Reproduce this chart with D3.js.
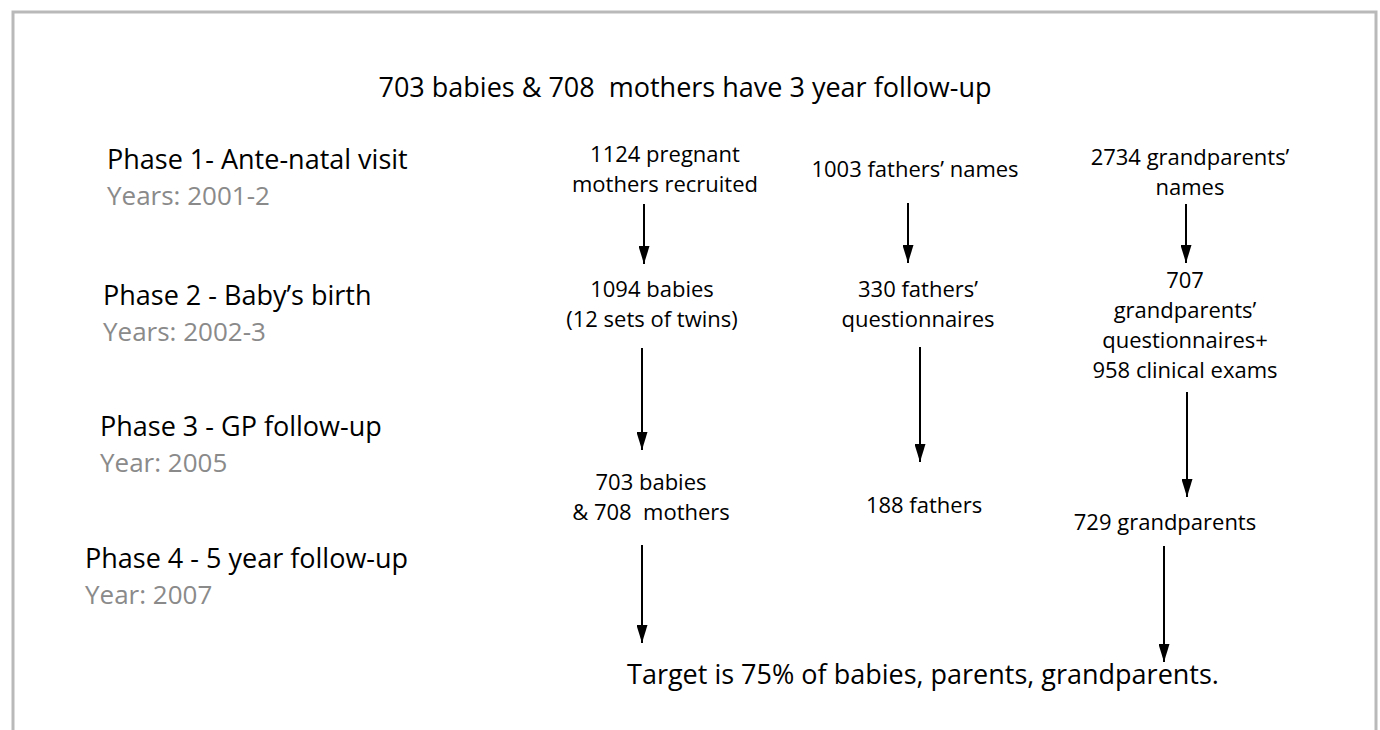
<!DOCTYPE html>
<html>
<head>
<meta charset="utf-8">
<script src="https://cdn.jsdelivr.net/npm/d3@7"></script>
<style>
  html, body { margin: 0; padding: 0; background: #fff; }
  text { font-family: "Open Sans", "Noto Sans", sans-serif; white-space: pre; }
</style>
</head>
<body>
<div id="chart"></div>
<script>
// Data
var headline = "703 babies & 708  mothers have 3 year follow-up";
var targetText = "Target is 75% of babies, parents, grandparents.";

var phaseNames = ["Phase 1- Ante-natal visit", "Phase 2 - Baby’s birth", "Phase 3 - GP follow-up", "Phase 4 - 5 year follow-up"];
var phaseYears = ["Years: 2001-2", "Years: 2002-3", "Year: 2005", "Year: 2007"];

var motherSteps = [["1124 pregnant", "mothers recruited"], ["1094 babies", "(12 sets of twins)"], ["703 babies", "& 708  mothers"]];
var fatherSteps = [["1003 fathers’ names"], ["330 fathers’", "questionnaires"], ["188 fathers"]];
var grandparentSteps = [["2734 grandparents’", "names"], ["707", "grandparents’", "questionnaires+", "958 clinical exams"], ["729 grandparents"]];

// Layout (pixel positions of the drawing)
var width = 1380, height = 730;
var lineGap = 30;

var phaseX = [107, 103, 100, 85];
var phaseY = d3.scaleOrdinal().domain(d3.range(4)).range([169, 305, 436, 568]);

var columns = [
    { steps: motherSteps,      x: [665, 652, 651],  y: [162, 297, 490],
      arrows: [{ x: 644, y1: 204, y2: 264 }, { x: 642, y1: 348, y2: 450 }, { x: 642, y1: 545, y2: 643 }] },
    { steps: fatherSteps,      x: [915, 918, 924],  y: [177, 297, 513],
      arrows: [{ x: 908, y1: 203, y2: 263 }, { x: 920, y1: 347, y2: 462 }] },
    { steps: grandparentSteps, x: [1190, 1185, 1165], y: [165, 288, 530],
      arrows: [{ x: 1186, y1: 204, y2: 263 }, { x: 1187, y1: 392, y2: 497 }, { x: 1164, y1: 546, y2: 662 }] }
];

var svg = d3.select("#chart").append("svg")
    .attr("width", width)
    .attr("height", height);

svg.append("rect").attr("width", width).attr("height", height).attr("fill", "#fff");

// Frame (open at the bottom)
svg.append("path")
    .attr("d", "M13," + height + "V12H1376V" + height)
    .attr("fill", "none")
    .attr("stroke", "#b9b9b9")
    .attr("stroke-width", 3);

// Arrow head, pointing along the line direction
svg.append("defs").append("marker")
    .attr("id", "head")
    .attr("viewBox", "0 0 18 11")
    .attr("refX", 18).attr("refY", 5.5)
    .attr("markerWidth", 18).attr("markerHeight", 11)
    .attr("markerUnits", "userSpaceOnUse")
    .attr("orient", "auto")
    .append("path")
    .attr("d", "M0,0L18,5.5L0,11Z")
    .attr("fill", "#000");

// Headline
svg.append("text")
    .attr("x", 685).attr("y", 97)
    .attr("text-anchor", "middle")
    .style("font-size", "27px")
    .attr("fill", "#000")
    .text(headline);

// Phase labels
var phase = svg.selectAll(".phase")
    .data(phaseNames)
    .enter().append("g")
    .attr("class", "phase");

phase.append("text")
    .attr("x", function(d, i) { return phaseX[i]; })
    .attr("y", function(d, i) { return phaseY(i); })
    .style("font-size", "27px")
    .attr("fill", "#000")
    .text(function(d) { return d; });

phase.append("text")
    .attr("x", function(d, i) { return phaseX[i]; })
    .attr("y", function(d, i) { return phaseY(i) + 36; })
    .style("font-size", "26px")
    .attr("fill", "#8a8a8a")
    .text(function(d, i) { return phaseYears[i]; });

// Columns: step texts and arrows
columns.forEach(function(col) {
    var g = svg.append("g");

    g.selectAll(".step")
        .data(col.steps)
        .enter().append("text")
        .attr("class", "step")
        .attr("text-anchor", "middle")
        .style("font-size", "22px")
        .attr("fill", "#000")
        .each(function(lines, i) {
            d3.select(this).selectAll("tspan")
                .data(lines)
                .enter().append("tspan")
                .attr("x", col.x[i])
                .attr("y", function(l, j) { return col.y[i] + j * lineGap; })
                .text(function(l) { return l; });
        });

    g.selectAll(".arrow")
        .data(col.arrows)
        .enter().append("line")
        .attr("class", "arrow")
        .attr("x1", function(d) { return d.x; })
        .attr("x2", function(d) { return d.x; })
        .attr("y1", function(d) { return d.y1; })
        .attr("y2", function(d) { return d.y2; })
        .attr("stroke", "#000")
        .attr("stroke-width", 2)
        .attr("marker-end", "url(#head)");
});

// Target line
svg.append("text")
    .attr("x", 923).attr("y", 684)
    .attr("text-anchor", "middle")
    .style("font-size", "27px")
    .attr("fill", "#000")
    .text(targetText);
</script>
</body>
</html>
